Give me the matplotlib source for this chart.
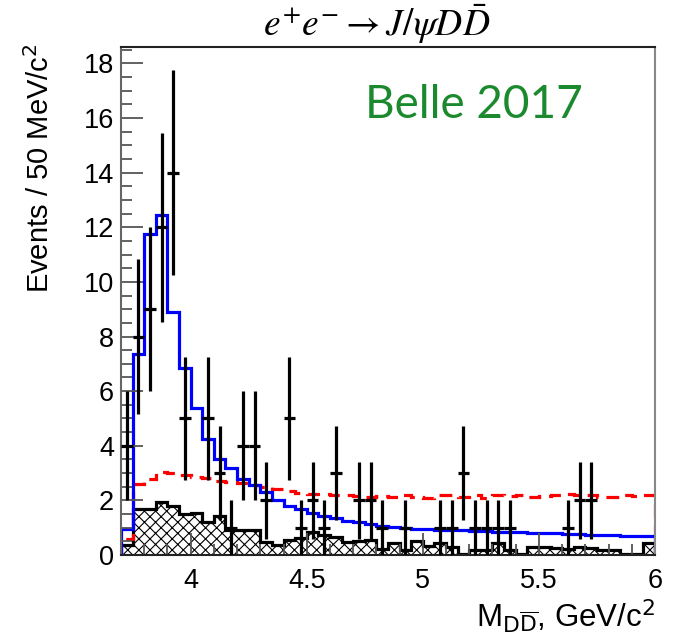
import numpy as np
import matplotlib
matplotlib.use("Agg")
import matplotlib.pyplot as plt
from matplotlib.ticker import MultipleLocator, FormatStrFormatter

# binning: 50 MeV bins starting at the DD threshold region
bin_lo = 3.70
bin_w = 0.05

# observed events per bin (0 = no point drawn)
counts = [4, 8, 9, 12, 14, 5, 0, 5, 3, 1,
          4, 4, 2, 0, 5, 1, 2, 1, 3, 0,
          2, 2, 1, 0, 1, 0, 0, 1, 1, 3,
          1, 1, 1, 1, 0, 0, 0, 0, 1, 2,
          2, 0, 0, 0, 0, 0]

# total fit (blue)
fit_total = [0.95, 7.35, 11.77, 12.45, 8.88, 6.85, 5.38, 4.26, 3.50, 3.18,
             2.77, 2.58, 2.29, 2.02, 1.81, 1.68, 1.53, 1.42, 1.34, 1.26,
             1.19, 1.13, 1.08, 1.04, 1.00, 0.97, 0.95, 0.93, 0.91, 0.90,
             0.88, 0.87, 0.85, 0.84, 0.83, 0.82, 0.80, 0.79, 0.78, 0.77,
             0.75, 0.74, 0.72, 0.70, 0.69, 0.68]

# background-only component (red dashed)
fit_bkg = [0.60, 2.60, 2.80, 3.05, 3.00, 2.92, 2.87, 2.83, 2.72, 2.68,
           2.62, 2.55, 2.50, 2.40, 2.33, 2.28, 2.25, 2.22, 2.20, 2.20,
           2.16, 2.14, 2.17, 2.14, 2.20, 2.12, 2.10, 2.20, 2.20, 2.13,
           2.18, 2.10, 2.20, 2.15, 2.18, 2.12, 2.16, 2.20, 2.22, 2.20,
           2.18, 2.13, 2.13, 2.18, 2.17, 2.18]

# sideband (hatched black)
sideband = [0.35, 1.68, 1.68, 1.95, 1.78, 1.50, 1.55, 1.22, 1.43, 0.90,
            0.90, 0.92, 0.48, 0.38, 0.55, 0.62, 0.85, 0.74, 0.67, 0.49,
            0.52, 0.56, 0.21, 0.45, 0.20, 0.52, 0.33, 0.45, 0.30, 0.05,
            0.20, 0.20, 0.45, 0.20, 0.03, 0.30, 0.30, 0.25, 0.22, 0.30,
            0.25, 0.20, 0.20, 0.05, 0.02, 0.45]

edges = bin_lo + bin_w * np.arange(len(counts) + 1)
centers = 0.5 * (edges[:-1] + edges[1:])
counts = np.array(counts, dtype=float)

W, H, DPI = 676, 643, 100
fig = plt.figure(figsize=(W / DPI, H / DPI), dpi=DPI)
ax = fig.add_axes([121 / W, 1 - 555 / H, (655 - 121) / W, (555 - 47) / H])

plt.rcParams['hatch.linewidth'] = 0.8

# hatched sideband
ax.stairs(sideband, edges, fill=True, facecolor='none', edgecolor='black',
          hatch='xxx', linewidth=0)
ax.stairs(sideband, edges, color='black', linewidth=2.3)

ax.stairs(fit_bkg, edges, color='red', linewidth=2.3, linestyle=(0, (4, 2.5)))
ax.stairs(fit_total, edges, color='blue', linewidth=2.3)

m = counts > 0
ax.errorbar(centers[m], counts[m], yerr=np.sqrt(counts[m]), xerr=bin_w / 2,
            fmt='none', ecolor='black', elinewidth=2.3, capsize=0, zorder=5)

ax.set_xlim(3.70, 6.0)
ax.set_ylim(0, 18.6)

ax.xaxis.set_major_locator(MultipleLocator(0.5))
ax.xaxis.set_minor_locator(MultipleLocator(0.1))
ax.yaxis.set_major_locator(MultipleLocator(2))
ax.yaxis.set_minor_locator(MultipleLocator(0.5))
ax.xaxis.set_major_formatter(FormatStrFormatter('%g'))
ax.yaxis.set_major_formatter(FormatStrFormatter('%g'))

font = 'Liberation Sans'
ax.tick_params(which='both', direction='in', top=False, right=False,
               width=1.3, color='#555555')
ax.tick_params(which='major', length=16)
ax.tick_params(which='minor', length=8)
ax.tick_params(axis='y', pad=5, labelsize=19.5)
ax.tick_params(axis='x', pad=9, labelsize=19.5)
for lab in ax.get_xticklabels() + ax.get_yticklabels():
    lab.set_fontfamily(font)

for side, col in [('left', '#666666'), ('right', '#888888'),
                  ('top', '#222222'), ('bottom', '#222222')]:
    ax.spines[side].set_color(col)
    ax.spines[side].set_linewidth(1.5)

fig.text(40 / W, 1 - 44 / H, 'Events / 50 MeV/c$^{2}$', rotation=90,
         ha='center', va='top', fontsize=21, family=font,
         math_fontfamily='dejavusans')
fig.text(655 / W, 1 - 597 / H, r'M$_{\mathsf{D\overline{D}}}$, GeV/c$^{2}$',
         ha='right', va='top', fontsize=22.5, family=font,
         math_fontfamily='dejavusans')

fig.text(377 / W, 1 - 2 / H, r'$e^{+}e^{-} \rightarrow J/\psi D\bar{D}$',
         ha='center', va='top', fontsize=27, math_fontfamily='stix')

ax.text(0.457, 0.885, 'Belle 2017', transform=ax.transAxes, ha='left',
        va='center', fontsize=33, family='Lato', color='#1b8a2e')

fig.savefig('out.png', dpi=DPI)
